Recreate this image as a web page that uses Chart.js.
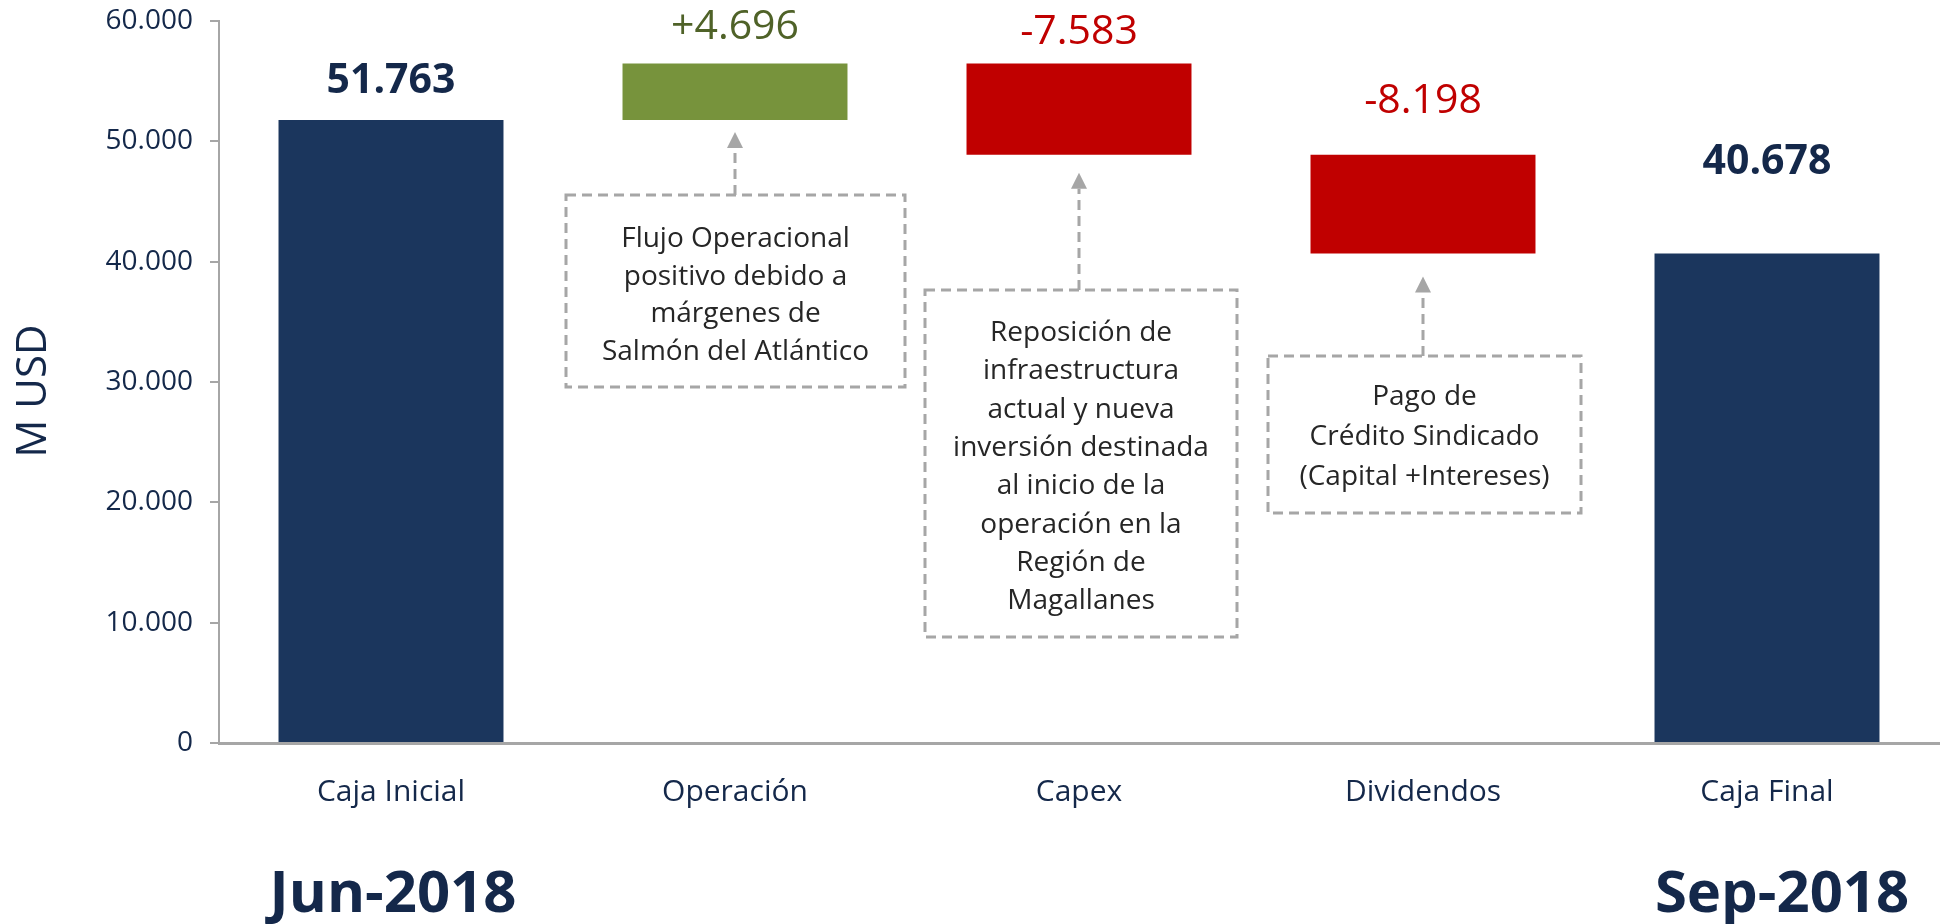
<!DOCTYPE html>
<html>
<head>
<meta charset="utf-8">
<title>Caja</title>
<style>
  html, body { margin: 0; padding: 0; background: #fff; }
  canvas { display: block; }
</style>
<script src="https://cdn.jsdelivr.net/npm/chart.js@4.4.1/dist/chart.umd.min.js"></script>
</head>
<body>
<canvas id="chartCaja" width="1945" height="924"></canvas>
<script>
(function () {
    'use strict';

    // data
    const categories = ['Caja Inicial', 'Operación', 'Capex', 'Dividendos', 'Caja Final'];
    const startCash  = 51763;
    const movements  = [4696, -7583, -8198];
    const endCash    = 40678;
    const periods    = ['Jun-2018', 'Sep-2018'];
    const yTitle     = 'M USD';
    const notes = [
        ['Flujo Operacional', 'positivo debido a', 'márgenes de', 'Salmón del Atlántico'],
        ['Reposición de', 'infraestructura', 'actual y nueva', 'inversión destinada',
         'al inicio de la', 'operación en la', 'Región de', 'Magallanes'],
        ['Pago de', 'Crédito Sindicado', '(Capital +Intereses)']
    ];

    const NAVY  = '#1B365D';
    const GREEN = '#77933C';
    const RED   = '#C00000';
    const INK   = '#14284A';
    const GREY  = '#A6A6A6';
    const FONT  = '"Open Sans", "Noto Sans", sans-serif';

    // floating ranges for the waterfall
    const ranges = [[0, startCash]];
    let run = startCash;
    movements.forEach(d => {
        ranges.push([Math.min(run, run + d), Math.max(run, run + d)]);
        run += d;
    });
    ranges.push([0, endCash]);
    const values = [startCash].concat(movements, [endCash]);

    const isTotal = i => i === 0 || i === values.length - 1;
    const barColors = values.map((v, i) => isTotal(i) ? NAVY : (v > 0 ? GREEN : RED));
    const labelColors = values.map((v, i) => isTotal(i) ? INK : (v > 0 ? '#4F6228' : RED));

    function fmt(v) {
        return Math.abs(v).toString().replace(/\B(?=(\d{3})+(?!\d))/g, '.');
    }
    function valueText(v, i) {
        if (isTotal(i)) return fmt(v);
        return (v > 0 ? '+' : '-') + fmt(v);
    }

    // label distance above the top of each bar
    const labelLift = [27, 25, 20, 42, 80];

    // callout boxes under the movement bars
    const callouts = [
        { bar: 1, left: 566,  right: 905,  top: 195, bottom: 387, gap: 12, base: 247, step: 37.7 },
        { bar: 2, left: 925,  right: 1237, top: 290, bottom: 637, gap: 18, base: 341, step: 38.3 },
        { bar: 3, left: 1268, right: 1581, top: 356, bottom: 513, gap: 23, base: 405, step: 40 }
    ];

    const decorations = {
        id: 'decorations',
        afterDatasetsDraw(chart) {
            const ctx = chart.ctx;
            const bars = chart.getDatasetMeta(0).data;
            ctx.save();

            // value labels
            bars.forEach((bar, i) => {
                const top = Math.min(bar.y, bar.base);
                ctx.font = (isTotal(i) ? 'bold ' : '') + '41px ' + FONT;
                ctx.fillStyle = labelColors[i];
                ctx.textAlign = 'center';
                ctx.textBaseline = 'alphabetic';
                ctx.fillText(valueText(values[i], i), bar.x, top - labelLift[i]);
            });

            // callouts with dashed arrows
            callouts.forEach((c, k) => {
                const bar = bars[c.bar];
                const tip = Math.max(bar.y, bar.base) + c.gap;
                ctx.strokeStyle = GREY;
                ctx.lineWidth = 3;
                ctx.setLineDash([10, 6]);
                ctx.strokeRect(c.left, c.top, c.right - c.left, c.bottom - c.top);
                ctx.beginPath();
                ctx.moveTo(bar.x, c.top);
                ctx.lineTo(bar.x, tip + 16);
                ctx.stroke();
                ctx.setLineDash([]);
                ctx.fillStyle = GREY;
                ctx.beginPath();
                ctx.moveTo(bar.x, tip);
                ctx.lineTo(bar.x - 8, tip + 16);
                ctx.lineTo(bar.x + 8, tip + 16);
                ctx.closePath();
                ctx.fill();

                ctx.font = '28px ' + FONT;
                ctx.fillStyle = '#262626';
                ctx.textAlign = 'center';
                ctx.textBaseline = 'alphabetic';
                const cx = (c.left + c.right) / 2;
                notes[k].forEach((line, j) => ctx.fillText(line, cx, c.base + j * c.step));
            });

            // period labels under first and last bar
            ctx.font = 'bold 58px ' + FONT;
            ctx.fillStyle = INK;
            ctx.textAlign = 'center';
            ctx.fillText(periods[0], bars[0].x + 2, 912);
            ctx.fillText(periods[1], bars[bars.length - 1].x + 15, 912);

            // axis title
            ctx.translate(34, 391);
            ctx.rotate(-Math.PI / 2);
            ctx.font = '42px ' + FONT;
            ctx.textBaseline = 'middle';
            ctx.fillText(yTitle, 0, 0);

            ctx.restore();
        }
    };

    new Chart(document.getElementById('chartCaja'), {
        type: 'bar',
        data: {
            labels: categories,
            datasets: [{
                data: ranges,
                backgroundColor: barColors,
                borderWidth: 0,
                borderSkipped: false,
                categoryPercentage: 1,
                barPercentage: 0.654
            }]
        },
        options: {
            responsive: false,
            animation: false,
            layout: { padding: { top: 21, right: 6, left: 0, bottom: 0 } },
            plugins: {
                legend: { display: false },
                tooltip: { enabled: false }
            },
            scales: {
                x: {
                    grid: { display: false, drawTicks: false },
                    border: { display: true, color: GREY, width: 3 },
                    ticks: { color: INK, font: { family: FONT, size: 30 }, padding: 31 },
                    afterFit(scale) { scale.height = 181; }
                },
                y: {
                    min: 0,
                    max: 60000,
                    grid: { drawOnChartArea: false, drawTicks: true, tickLength: 9, color: GREY, lineWidth: 2 },
                    border: { display: true, color: GREY, width: 2 },
                    ticks: {
                        stepSize: 10000,
                        color: INK,
                        padding: 17,
                        font: { family: FONT, size: 28 },
                        callback: v => fmt(v)
                    },
                    afterFit(scale) {
                        scale.width = 219;
                        scale.paddingTop = 0;
                        scale.paddingBottom = 0;
                    }
                }
            }
        },
        plugins: [decorations]
    });
})();
</script>
</body>
</html>
